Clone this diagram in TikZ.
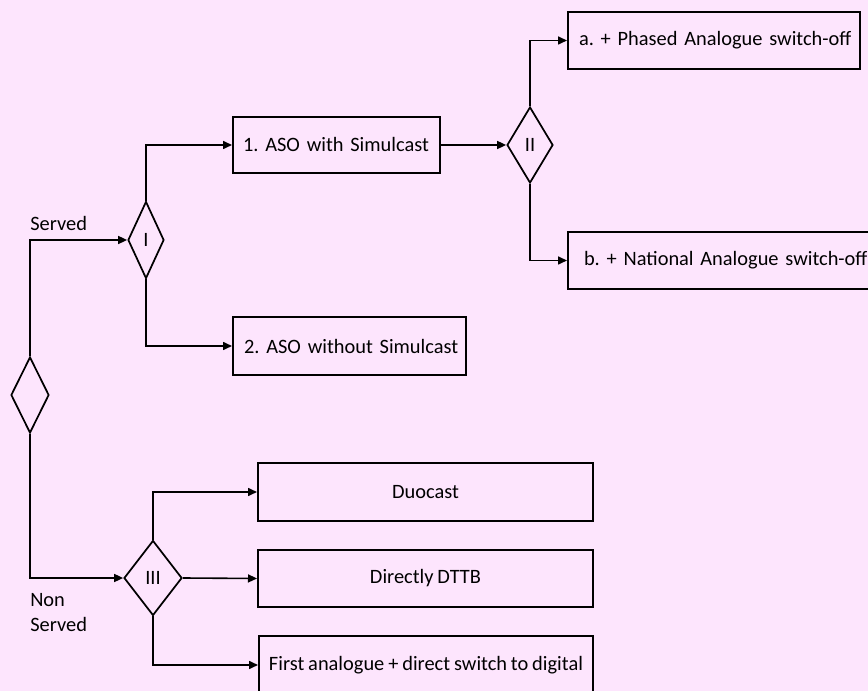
\documentclass[tikz,border=0pt]{standalone}
\usepackage{fontspec}
\setmainfont{Carlito}
\usetikzlibrary{arrows.meta,shapes.geometric}
\definecolor{pagebg}{RGB}{253,229,253}
\newcommand\labelfont{\fontsize{15.3}{18.75}\selectfont\frenchspacing\spaceskip=0.19em plus 0.02em\relax}
\begin{document}
\begin{tikzpicture}[x=0.75pt,y=-0.75pt,
  every node/.style={font=\labelfont},
  box/.style={draw, line width=1.5pt, rectangle, inner ysep=0pt},
  lbox/.style={box, align=left},
  cbox/.style={box, align=center},
  choice/.style={draw, line width=1.3pt, diamond, inner sep=0pt},
  link/.style={line width=1.2pt, -{Triangle[length=6.75pt,width=6pt]}},
  lbl/.style={inner sep=0pt}]
  % page
  \fill[pagebg] (0,0) rectangle (868,691);
  \useasboundingbox (0,0) rectangle (868,691);
  \clip (0,0) rectangle (868,691);

  % decision points
  \node[choice, minimum width={38*0.75pt}, minimum height={76*0.75pt}] (d0) at (30,395) {};
  \node[choice, minimum width={36*0.75pt}, minimum height={77*0.75pt}] (d1) at (146,240) {I};
  \node[choice, minimum width={46*0.75pt}, minimum height={76*0.75pt}] (d2) at (530,145) {II};
  \node[choice, minimum width={58*0.75pt}, minimum height={75*0.75pt}] (d3) at (153,578) {III};

  % served branch (left-aligned labels in fixed-size boxes)
  \node[lbox, anchor=west, inner xsep={10*0.75pt}, text width={187*0.75pt},
        minimum height={56*0.75pt}] (aso1) at (232,145) {\mbox{1. ASO with Simulcast}};
  \node[lbox, anchor=west, inner xsep={11*0.75pt}, text width={211*0.75pt},
        minimum height={58*0.75pt}] (aso2) at (232,346) {\mbox{2. ASO without Simulcast}};
  \node[lbox, anchor=west, inner xsep={11*0.75pt}, text width={270*0.75pt},
        minimum height={57*0.75pt}] (phased) at (567,40.5) {\mbox{a. + Phased Analogue switch-off}};
  \node[lbox, anchor=west, inner xsep={16*0.75pt}, text width={300*0.75pt},
        minimum height={57*0.75pt}] (national) at (567,260.5) {\mbox{b. + National Analogue switch-off}};

  % non served branch
  \node[cbox, anchor=west, minimum width={335*0.75pt}, minimum height={58*0.75pt}] (duo) at (257,492) {Duocast};
  \node[cbox, anchor=west, minimum width={335*0.75pt}, minimum height={57*0.75pt}] (dttb) at (257,578.5) {Directly DTTB};
  \node[cbox, anchor=west, inner xsep=0pt, minimum width={334*0.75pt}, minimum height={58*0.75pt}] (first) at (258,665) {First analogue + direct switch to digital};

  % labels
  \node[lbl, anchor=base west] (servedlbl) at (30,231) {Served};
  \node[lbl, anchor=north west, align=left] (nonservedlbl) at (30,593) {Non\\Served};

  % connectors
  \draw[link] (d0.north) |- (d1.west);
  \draw[link] (d0.south) |- (d3.west);
  \draw[link] (d1.north) |- (aso1.west);
  \draw[link] (d1.south) |- (aso2.west);
  \draw[link] (aso1.east) -- (d2.west);
  \draw[link] (d2.north) |- (phased.west);
  \draw[link] (d2.south) |- (national.west);
  \draw[link] (d3.north) |- (duo.west);
  \draw[link] (d3.east) -- (dttb.west);
  \draw[link] (d3.south) |- (first.west);
\end{tikzpicture}
\end{document}
